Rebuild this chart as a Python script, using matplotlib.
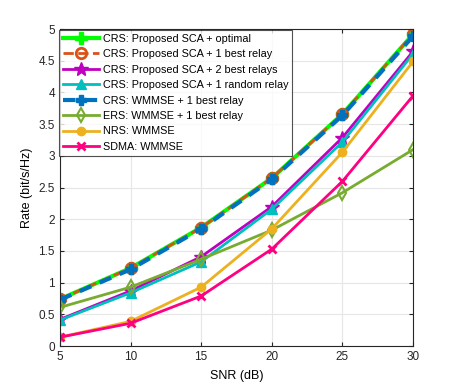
import matplotlib
matplotlib.use("Agg")
import matplotlib.pyplot as plt

plt.rcParams['font.family'] = ['Liberation Sans', 'DejaVu Sans']

snr = [5, 10, 15, 20, 25, 30]
labels = ["CRS: Proposed SCA + optimal",
          "CRS: Proposed SCA + 1 best relay",
          "CRS: Proposed SCA + 2 best relays",
          "CRS: Proposed SCA + 1 random relay",
          "CRS: WMMSE + 1 best relay",
          "ERS: WMMSE + 1 best relay",
          "NRS: WMMSE",
          "SDMA: WMMSE"]
crs_opt = [0.74, 1.23, 1.87, 2.65, 3.66, 4.92]
crs_best1 = [0.74, 1.23, 1.87, 2.65, 3.66, 4.92]
crs_best2 = [0.42, 0.87, 1.41, 2.20, 3.29, 4.65]
crs_rand = [0.41, 0.84, 1.33, 2.16, 3.22, 4.61]
crs_wmmse = [0.73, 1.21, 1.85, 2.63, 3.64, 4.89]
ers = [0.61, 0.93, 1.37, 1.83, 2.42, 3.10]
nrs = [0.14, 0.39, 0.93, 1.85, 3.06, 4.49]
sdma = [0.14, 0.36, 0.79, 1.53, 2.60, 3.95]

fig = plt.figure(figsize=(4.57, 3.88), dpi=100)
ax = fig.add_axes([0.131, 0.108, 0.773, 0.817])

lw = 2.0
ax.plot(snr, crs_opt, color=(0, 1, 0), lw=3, marker='P', ms=8, label=labels[0])
ax.plot(snr, crs_best1, color=(0.85, 0.325, 0.098), lw=lw, ls='--', marker='o', ms=7.5,
        mfc='none', mew=2, label=labels[1])
ax.plot(snr, crs_best2, color=(0.75, 0, 0.75), lw=lw, marker='*', ms=10, label=labels[2])
ax.plot(snr, crs_rand, color=(0, 0.75, 0.75), lw=lw, marker='^', ms=7.5, label=labels[3])
ax.plot(snr, crs_wmmse, color=(0, 0.447, 0.741), lw=3, ls=(0, (3, 2.2)), marker='P', ms=6.5, label=labels[4])
ax.plot(snr, ers, color=(0.466, 0.674, 0.188), lw=lw, marker='d', ms=7, mfc='none', mew=1.5, label=labels[5])
ax.plot(snr, nrs, color=(0.929, 0.694, 0.125), lw=lw, marker='o', ms=6, label=labels[6])
ax.plot(snr, sdma, color=(1, 0, 0.5), lw=lw, marker='x', ms=5.5, mew=2, label=labels[7])

ax.set_xlim(5, 30)
ax.set_ylim(0, 5)
ax.set_xticks([5, 10, 15, 20, 25, 30])
ax.set_yticks([0, 0.5, 1, 1.5, 2, 2.5, 3, 3.5, 4, 4.5, 5])
ax.set_yticklabels(["0", "0.5", "1", "1.5", "2", "2.5", "3", "3.5", "4", "4.5", "5"])
ax.grid(True, color=(0.9, 0.9, 0.9), lw=0.8)
ax.set_axisbelow(True)
ax.tick_params(direction='in', labelsize=8.5, top=True, right=True, length=3, colors='#262626')
for s in ax.spines.values():
    s.set_color('#262626')
    s.set_linewidth(0.8)
ax.set_xlabel("SNR (dB)", fontsize=9, labelpad=5)
ax.set_ylabel("Rate (bit/s/Hz)", fontsize=9, labelpad=4)
leg = ax.legend(loc='upper left', bbox_to_anchor=(-0.003, 0.997), fontsize=7.8, frameon=True,
                fancybox=False, edgecolor='#262626', handlelength=3.4, borderaxespad=0,
                labelspacing=0.5, borderpad=0.35, handletextpad=0.3)
leg.get_frame().set_linewidth(0.8)
fig.savefig("out.png", dpi=100)
